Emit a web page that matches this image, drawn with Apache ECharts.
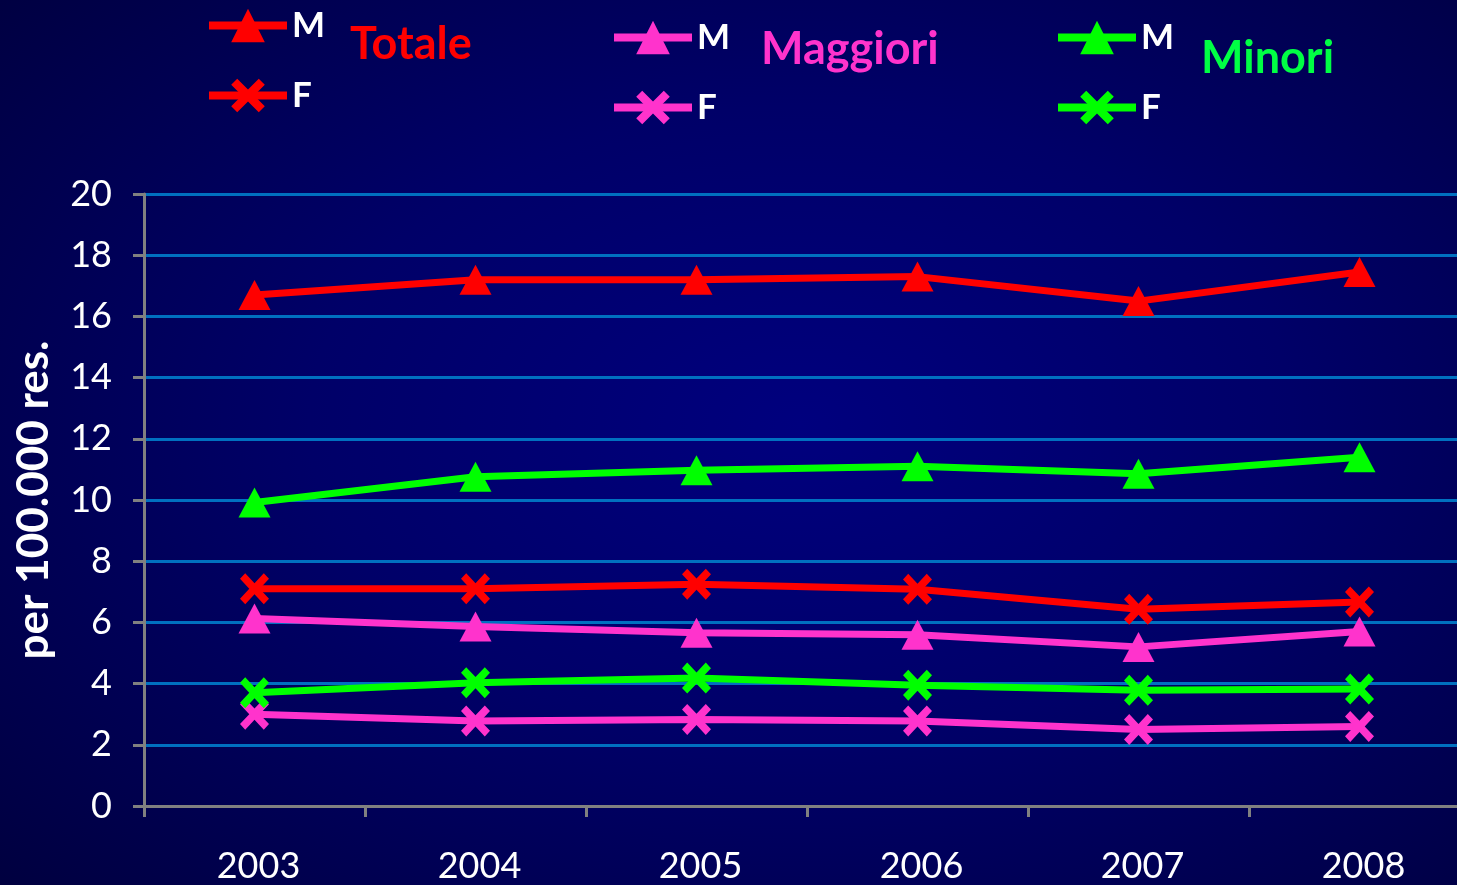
<!DOCTYPE html>
<html>
<head>
<meta charset="utf-8">
<script src="https://cdn.jsdelivr.net/npm/echarts@6/dist/echarts.min.js"></script>
<style>
  html, body { margin: 0; padding: 0; width: 100%; height: 100%; overflow: hidden; }
  body { background: radial-gradient(ellipse 75% 80% at 55% 48%, #00007e 0%, #000068 45%, #00003e 100%); }
  /* the plot area runs slightly past the right edge of the window */
  #chart { width: 1470px; height: 885px; }
</style>
</head>
<body>
<div id="chart"></div>
<script>
// Years on the category axis
const years = ['2003', '2004', '2005', '2006', '2007', '2008'];

// Rates per 100.000 residents
const totaleM   = [16.7, 17.2, 17.2, 17.3, 16.5, 17.45];
const totaleF   = [7.1, 7.1, 7.25, 7.08, 6.43, 6.67];
const maggioriM = [6.13, 5.87, 5.66, 5.6, 5.2, 5.7];
const maggioriF = [3.0, 2.78, 2.83, 2.78, 2.5, 2.6];
const minoriM   = [9.92, 10.76, 10.97, 11.1, 10.86, 11.4];
const minoriF   = [3.7, 4.03, 4.18, 3.95, 3.78, 3.82];

// Value axis ticks
const yTicks = { min: 0, max: 20, interval: 2 };

const RED = '#ff0000';
const PINK = '#ff33cc';
const GREEN = '#00ff00';
const FONT = 'Lato, "Open Sans", sans-serif';

// Filled "x" marker
const crossPath = 'path://M0,1.8 L1.8,0 L5,3.2 L8.2,0 L10,1.8 L6.8,5 L10,8.2 L8.2,10 L5,6.8 L1.8,10 L0,8.2 L3.2,5 Z';

function lineSeries(name, data, color, isMale) {
  return {
    name: name,
    type: 'line',
    data: data,
    symbol: isMale ? 'triangle' : crossPath,
    symbolSize: isMale ? [32, 30] : [29, 31],
    lineStyle: { color: color, width: 7 },
    itemStyle: { color: color },
    emphasis: { disabled: true },
    animation: false,
    z: 3
  };
}

function groupLegend(names, left, top) {
  return {
    orient: 'vertical',
    left: left,
    top: top,
    padding: 0,
    itemWidth: 78,
    itemHeight: 42,
    itemGap: 35,
    data: names,
    selectedMode: false,
    lineStyle: { width: 8 },
    formatter: function (n) { return n.split(' ')[1]; },
    textStyle: { color: '#ffffff', fontSize: 35, fontWeight: 'bold', fontFamily: FONT, padding: [0, 0, 0, 0] }
  };
}

function groupTitle(text, x, y, color) {
  return {
    type: 'text',
    left: x,
    top: y,
    style: { text: text, fill: color, font: 'bold 45px ' + FONT }
  };
}

const chart = echarts.init(document.getElementById('chart'), null, { renderer: 'canvas' });

chart.setOption({
  backgroundColor: 'transparent',
  animation: false,
  grid: { left: 144, top: 194, right: 0, height: 612, containLabel: false },
  legend: [
    groupLegend(['Totale M', 'Totale F'], 205, 8),
    groupLegend(['Maggiori M', 'Maggiori F'], 610, 20),
    groupLegend(['Minori M', 'Minori F'], 1054, 20)
  ],
  graphic: [
    groupTitle('Totale', 350, 22, RED),
    groupTitle('Maggiori', 761, 27, PINK),
    groupTitle('Minori', 1201, 36, '#00ff44')
  ],
  xAxis: {
    type: 'category',
    data: years,
    boundaryGap: true,
    axisLine: { show: true, lineStyle: { color: '#808080', width: 3 } },
    axisTick: { show: true, length: 11, interval: 0, lineStyle: { color: '#808080', width: 3 } },
    axisLabel: { color: '#ffffff', fontSize: 36, fontFamily: FONT, margin: 42, padding: [0, 0, 0, 8] },
    splitLine: { show: false }
  },
  yAxis: {
    type: 'value',
    min: yTicks.min,
    max: yTicks.max,
    interval: yTicks.interval,
    name: 'per 100.000 res.',
    nameLocation: 'middle',
    nameRotate: 90,
    nameGap: 88,
    nameTextStyle: { color: '#ffffff', fontSize: 44, fontWeight: 'bold', fontFamily: FONT },
    axisLine: { show: true, lineStyle: { color: '#808080', width: 3 } },
    axisTick: { show: true, length: 11, lineStyle: { color: '#808080', width: 3 } },
    axisLabel: { color: '#ffffff', fontSize: 36, fontFamily: FONT, margin: 32, padding: [10, 0, 0, 0] },
    splitLine: { show: true, lineStyle: { color: '#0070c0', width: 3 } }
  },
  series: [
    lineSeries('Totale M', totaleM, RED, true),
    lineSeries('Totale F', totaleF, RED, false),
    lineSeries('Maggiori M', maggioriM, PINK, true),
    lineSeries('Maggiori F', maggioriF, PINK, false),
    lineSeries('Minori M', minoriM, GREEN, true),
    lineSeries('Minori F', minoriF, GREEN, false)
  ]
});
</script>
</body>
</html>
